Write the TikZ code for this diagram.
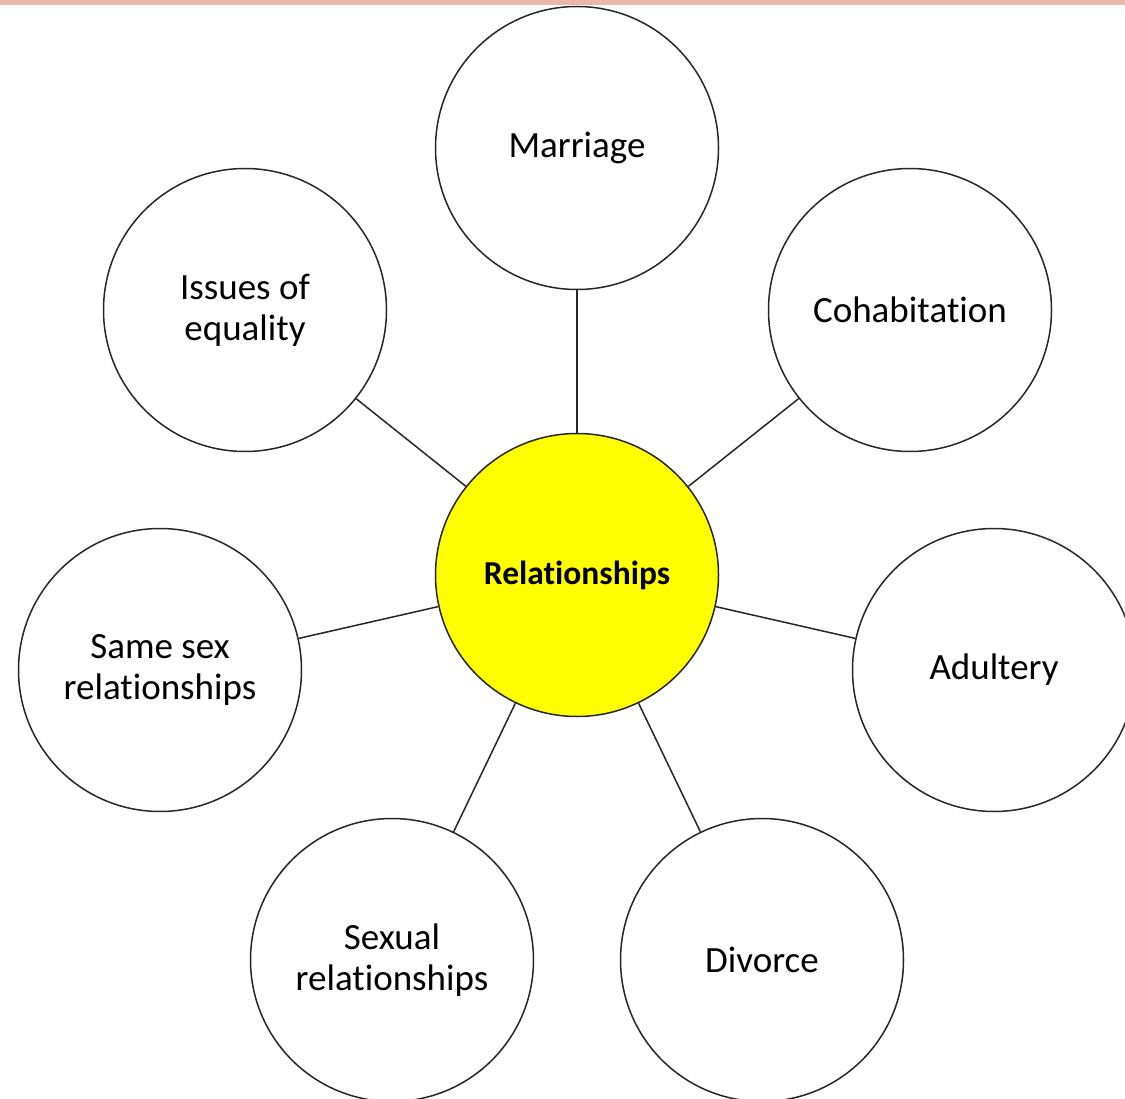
\documentclass[tikz,border=0pt]{standalone}
\usepackage{fontspec}
\setmainfont[Ligatures={NoCommon,NoContextual,NoRare},Contextuals={NoAlternate}]{Carlito}
\definecolor{pinkband}{HTML}{E9B6AE}
\definecolor{hubyellow}{HTML}{FFFF00}
\newcommand{\nolig}{\kern0pt{}}
\begin{document}
\begin{tikzpicture}[x=1pt,y=-1pt,
  bubble/.style={circle, draw=black!85, line width=1.5pt, fill=white,
    minimum size=283pt, inner sep=0pt, align=center,
    font=\fontsize{37}{41}\selectfont},
  hub/.style={bubble, fill=hubyellow, font=\fontsize{33.5}{40}\selectfont\bfseries},
  link/.style={draw=black!85, line width=1.5pt}]
\useasboundingbox (0,0) rectangle (1125,1099);
\clip (0,0) rectangle (1125,1099);
\fill[pinkband] (0,0) rectangle (1125,5);
\node[hub] (rel) at (577,575) {Relat\nolig ionships};
\node[bubble] (mar) at (577,148) {Marriage};
\node[bubble] (coh) at (910,310) {Cohabit\nolig at\nolig ion};
\node[bubble] (iss) at (245,310) {Issues of\\equality};
\node[bubble] (adu) at (994,670) {Adultery};
\node[bubble] (same) at (160,670) {Same sex\\relat\nolig ionships};
\node[bubble] (sex) at (392,960) {Sexual\\relat\nolig ionships};
\node[bubble] (div) at (762,960) {Divorce};
\foreach \n in {mar,coh,iss,adu,same,sex,div}
  \draw[link] (rel) -- (\n);
\end{tikzpicture}
\end{document}
